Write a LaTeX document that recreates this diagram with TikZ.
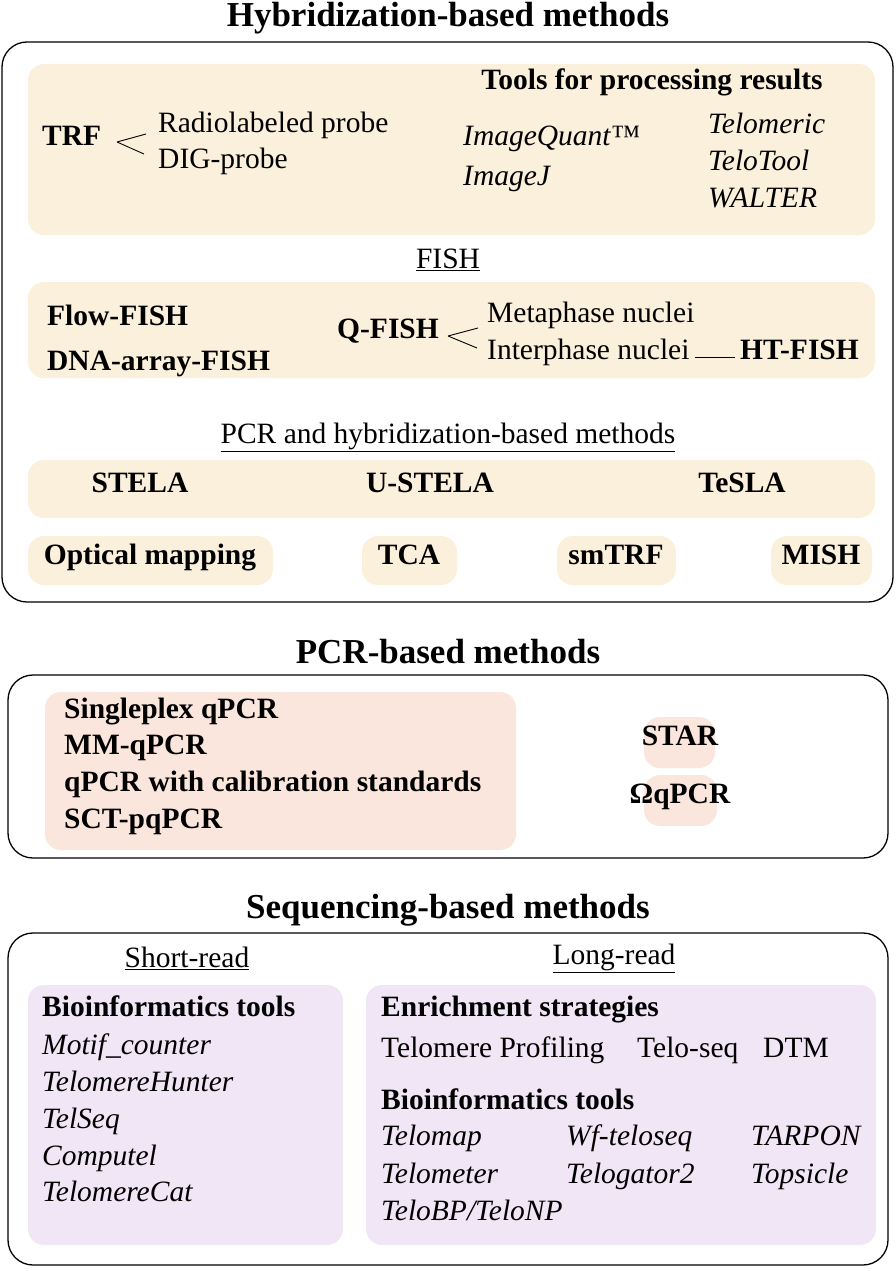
\documentclass[tikz,border=0pt]{standalone}
\usepackage{fontspec}
\setmainfont{Liberation Serif}
\begin{document}
\begin{tikzpicture}[x=1pt,y=-1pt,
  T/.style={font=\fontsize{35}{38}\selectfont\bfseries},
  base/.style={inner sep=0pt,text height=0.68em,text depth=0.2em},
  B/.style={base,font=\fontsize{29.5}{32}\selectfont},
  BB/.style={base,font=\fontsize{29.5}{32}\selectfont\bfseries},
  BI/.style={base,font=\fontsize{29.5}{32}\selectfont\itshape},
  U/.style={font=\fontsize{29.5}{32}\selectfont,inner sep=0pt},
  outer/.style={draw,line width=1.3pt,rounded corners=25pt},
  beige/.style={fill=be,rounded corners=16pt},
  pink/.style={fill=pk,rounded corners=16pt},
  lav/.style={fill=lv,rounded corners=16pt}]
\definecolor{be}{HTML}{FAF0DC}
\definecolor{pk}{HTML}{FAE6DC}
\definecolor{lv}{HTML}{F1E6F5}
\useasboundingbox (0,0) rectangle (896,1271);
% Hybridization
\node[T] (t1) at (448,18) {Hybridization-based methods};
\draw[outer] (2,42) rectangle (893,602);
\fill[beige] (28,64) rectangle (875,235);
\node[BB,anchor=west] (trf) at (42,143) {TRF};
\node[B,anchor=west] (rad) at (158,130) {Radiolabeled probe};
\node[B,anchor=west] (dig) at (158,166) {DIG-probe};
\coordinate (tr) at (117,142);
\draw[line width=0.9pt] (tr) -- (146,134) (tr) -- (144,154);
\node[BB] (tools) at (652,87) {Tools for processing results};
\node[BI,anchor=west] (iq) at (463,143) {ImageQuant\textup{™}};
\node[BI,anchor=west] (ij) at (463,183) {ImageJ};
\node[BI,anchor=west] (tm) at (708,131) {Telomeric};
\node[BI,anchor=west] (tt) at (708,168) {TeloTool};
\node[BI,anchor=west] (wa) at (708,205) {WALTER};
\node[U] (fish) at (448,260) {\underline{FISH}};
\fill[beige] (28,282) rectangle (875,378);
\node[BB,anchor=west] (ff) at (47,323) {Flow-FISH};
\node[BB,anchor=west] (df) at (47,368) {DNA-array-FISH};
\node[BB,anchor=west] (qf) at (337,336) {Q-FISH};
\node[B,anchor=west] (mn) at (487,320) {Metaphase nuclei};
\node[B,anchor=west] (in) at (487,357) {Interphase nuclei};
\node[BB,anchor=east] (ht) at (859,357) {HT-FISH};
\coordinate (qc) at (448,336);
\draw[line width=0.9pt] (qc) -- (478,328) (qc) -- (477,348);
\draw[line width=0.9pt] ([xshift=5pt]in.east) -- ([xshift=-5pt]ht.west);
\node[U] (pcrh) at (448,437) {\underline{PCR and hybridization-based methods}};
\fill[beige] (28,460) rectangle (875,518);
\node[BB] (stela) at (140,490) {STELA};
\node[BB] (ustela) at (430,490) {U-STELA};
\node[BB] (tesla) at (742,490) {TeSLA};
\fill[beige] (28,536) rectangle (273,585);
\node[BB] (om) at (150,562) {Optical mapping};
\fill[beige] (362,536) rectangle (457,585);
\node[BB] (tca) at (409,562) {TCA};
\fill[beige] (557,536) rectangle (676,585);
\node[BB] (sm) at (616,562) {smTRF};
\fill[beige] (771,536) rectangle (872,585);
\node[BB] (mish) at (821,562) {MISH};
% PCR
\node[T] (t2) at (448,652) {PCR-based methods};
\draw[outer] (8,675) rectangle (888,858);
\fill[pink] (45,692) rectangle (516,850);
\node[BB,anchor=west] (p1) at (64,716) {Singleplex qPCR};
\node[BB,anchor=west] (p2) at (64,752) {MM-qPCR};
\node[BB,anchor=west] (p3) at (64,789) {qPCR with calibration standards};
\node[BB,anchor=west] (p4) at (64,826) {SCT-pqPCR};
\fill[pink] (644,717) rectangle (715,768);
\node[BB] (star) at (680,743) {STAR};
\fill[pink] (644,775) rectangle (717,826);
\node[BB] (oq) at (680,801) {ΩqPCR};
% Sequencing
\node[T] (t3) at (448,910) {Sequencing-based methods};
\draw[outer] (8,933) rectangle (888,1265);
\node[U] (sr) at (187,958) {\underline{Short-read}};
\node[U] (lr) at (614,958) {\underline{Long-read}};
\fill[lav] (28,985) rectangle (343,1245);
\node[BB,anchor=west] (bt1) at (42,1014) {Bioinformatics tools};
\node[BI,anchor=west] (s1) at (42,1052) {Motif\_counter};
\node[BI,anchor=west] (s2) at (42,1089) {TelomereHunter};
\node[BI,anchor=west] (s3) at (42,1126) {TelSeq};
\node[BI,anchor=west] (s4) at (42,1163) {Computel};
\node[BI,anchor=west] (s5) at (42,1199) {TelomereCat};
\fill[lav] (366,985) rectangle (876,1245);
\node[BB,anchor=west] (es) at (381,1014) {Enrichment strategies};
\node[B,anchor=west] (e1) at (381,1055) {Telomere Profiling};
\node[B,anchor=west] (e2) at (637,1055) {Telo-seq};
\node[B,anchor=west] (e3) at (763,1055) {DTM};
\node[BB,anchor=west] (bt2) at (381,1107) {Bioinformatics tools};
\node[BI,anchor=west] (l1) at (381,1143) {Telomap};
\node[BI,anchor=west] (l2) at (566,1143) {Wf-teloseq};
\node[BI,anchor=west] (l3) at (751,1143) {TARPON};
\node[BI,anchor=west] (l4) at (381,1181) {Telometer};
\node[BI,anchor=west] (l5) at (566,1181) {Telogator2};
\node[BI,anchor=west] (l6) at (751,1181) {Topsicle};
\node[BI,anchor=west] (l7) at (381,1218) {TeloBP/TeloNP};
\end{tikzpicture}
\end{document}
